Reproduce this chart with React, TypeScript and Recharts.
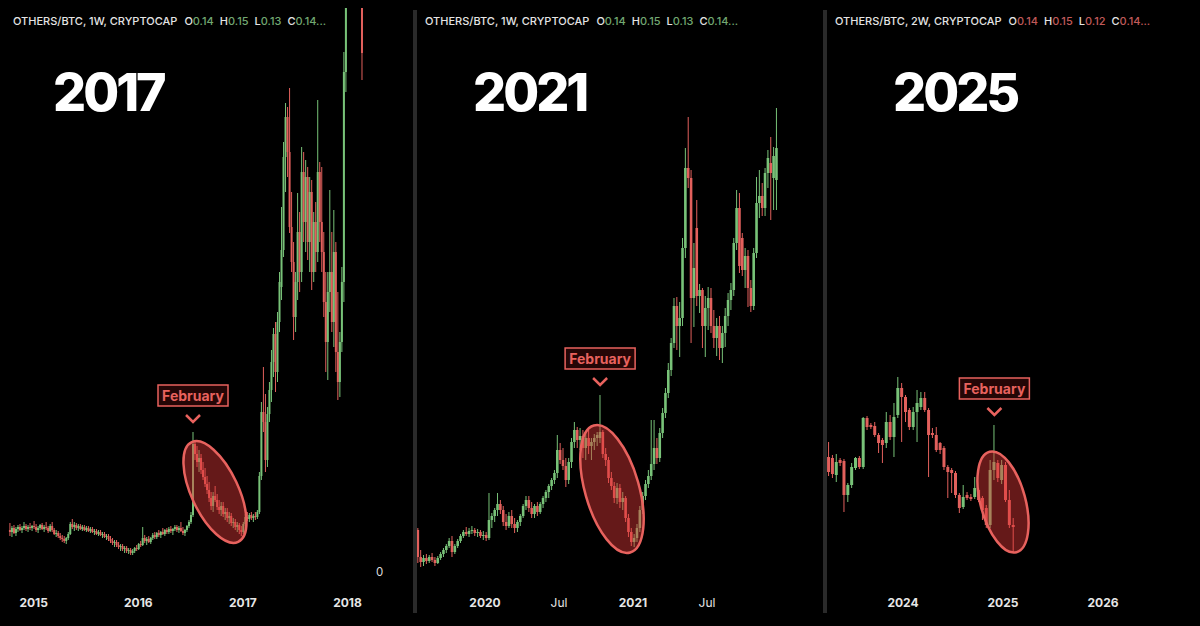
import React from 'react';
import { ComposedChart, Bar, XAxis, YAxis, ReferenceDot } from 'recharts';

const UP = '#78c278';
const DOWN = '#e2605c';
const MARK = '#e8625e';
const FONT = 'Inter, "Noto Sans", sans-serif';

// every candle is [open, high, low, close], in chart units
type Ohlc = [number, number, number, number];

// ---- 2017 cycle, weekly candles ----
const start2017 = 2014.773;
const step2017 = 1 / 52;
const candles2017: Ohlc[] = [
  [42, 49, 36, 40], [40, 46, 35, 44], [44, 47, 38, 39], [39, 45, 36, 43], [43, 47, 40, 45],
  [45, 48, 41, 42], [42, 46, 39, 44], [44, 50, 42, 46], [46, 48, 41, 43], [43, 47, 40, 45],
  [45, 49, 42, 44], [44, 47, 41, 46], [46, 51, 43, 45], [45, 48, 40, 42], [42, 46, 39, 44],
  [44, 48, 42, 47], [47, 49, 42, 43], [43, 47, 40, 45], [45, 50, 42, 44], [44, 46, 39, 41],
  [41, 48, 40, 46], [46, 50, 40, 42], [42, 44, 37, 38], [38, 42, 35, 39], [39, 41, 34, 36],
  [36, 39, 32, 34], [34, 37, 30, 33], [33, 36, 29, 31], [31, 35, 28, 34], [34, 40, 32, 38],
  [38, 50, 37, 48], [48, 53, 43, 45], [45, 50, 41, 47], [47, 49, 42, 44], [44, 48, 41, 46],
  [46, 48, 42, 43], [43, 47, 41, 45], [45, 47, 41, 42], [42, 46, 40, 44], [44, 46, 40, 41],
  [41, 45, 39, 43], [43, 45, 39, 40], [40, 43, 37, 41], [41, 43, 37, 38], [38, 42, 36, 40],
  [40, 42, 36, 37], [37, 40, 34, 38], [38, 40, 34, 35], [35, 38, 32, 36], [36, 38, 31, 33],
  [33, 36, 29, 31], [31, 34, 27, 29], [29, 32, 25, 30], [30, 32, 25, 27], [27, 30, 23, 25],
  [25, 28, 21, 26], [26, 28, 21, 23], [23, 26, 19, 24], [24, 26, 19, 21], [21, 24, 18, 22],
  [22, 24, 17, 19], [19, 23, 17, 21], [21, 25, 19, 24], [24, 27, 21, 23], [23, 29, 22, 28],
  [28, 31, 25, 27], [27, 45, 26, 34], [34, 37, 29, 31], [31, 35, 27, 33], [33, 36, 29, 30],
  [30, 35, 28, 34], [34, 39, 32, 37], [37, 40, 33, 35], [35, 40, 33, 39], [39, 42, 35, 37],
  [37, 41, 34, 40], [40, 44, 37, 38], [38, 43, 36, 42], [42, 44, 38, 40], [40, 45, 38, 43],
  [43, 46, 39, 41], [41, 44, 37, 43], [43, 47, 41, 45], [45, 47, 40, 42], [42, 46, 39, 44],
  [44, 50, 40, 41], [41, 45, 37, 39], [39, 43, 36, 42], [42, 47, 40, 46], [46, 52, 44, 50],
  [50, 60, 48, 57], [57, 140, 55, 128], [128, 132, 112, 118], [118, 126, 105, 110], [110, 122, 100, 114],
  [114, 118, 98, 102], [102, 110, 92, 95], [95, 104, 85, 88], [88, 96, 78, 82], [82, 90, 70, 74],
  [74, 80, 62, 66], [66, 80, 60, 76], [76, 86, 70, 72], [72, 78, 62, 65], [65, 72, 58, 62],
  [62, 70, 56, 66], [66, 70, 55, 58], [58, 64, 52, 60], [60, 64, 50, 54], [54, 60, 48, 56],
  [56, 59, 46, 49], [49, 54, 44, 50], [50, 53, 42, 45], [45, 50, 40, 47], [47, 49, 38, 42],
  [42, 46, 36, 40], [40, 50, 38, 48], [48, 58, 46, 55], [55, 60, 51, 53], [53, 59, 50, 57],
  [57, 60, 52, 54], [54, 58, 50, 56], [56, 60, 52, 55], [55, 62, 53, 60], [60, 100, 58, 96],
  [96, 170, 92, 160], [160, 205, 140, 150], [150, 178, 100, 112], [112, 165, 105, 158], [158, 190, 150, 182],
  [182, 222, 170, 210], [210, 244, 195, 238], [238, 250, 180, 200], [200, 260, 190, 250], [250, 300, 240, 290],
  [285, 365, 272, 322], [322, 430, 315, 415], [415, 469, 380, 455], [455, 465, 395, 420], [420, 484, 339, 345],
  [345, 380, 300, 310], [310, 330, 232, 255], [255, 300, 240, 290], [290, 379, 272, 340], [340, 360, 280, 300],
  [300, 425, 290, 400], [400, 420, 330, 350], [350, 412, 320, 395], [395, 405, 312, 330], [330, 395, 300, 380],
  [380, 392, 282, 300], [300, 360, 290, 350], [350, 370, 300, 320], [320, 472, 310, 400], [400, 410, 330, 350],
  [350, 405, 300, 320], [320, 340, 255, 270], [270, 300, 200, 230], [230, 300, 192, 280], [280, 382, 260, 300],
  [300, 340, 240, 250], [250, 362, 225, 320], [320, 330, 200, 220], [220, 280, 172, 190], [190, 240, 175, 230],
  [230, 305, 220, 290], [290, 520, 270, 500], [500, 640, 480, 620], [600, 700, 580, 680], [680, 760, 650, 720],
  [720, 800, 690, 780], [780, 820, 700, 740], [740, 790, 680, 700], [700, 760, 650, 720], [720, 740, 600, 640],
  [640, 660, 492, 519],
];
const ticks2017 = [2015, 2016, 2017, 2018];
const tickLabels2017 = ['2015', '2016', '2017', '2018'];
const yTicks2017 = [0];
const feb2017 = 91;

// ---- 2021 cycle, weekly candles ----
const start2021 = 2019.547;
const step2021 = 1 / 52;
const candles2021: Ohlc[] = [
  [58, 60, 25, 31], [31, 38, 21, 26], [26, 33, 22, 30], [30, 34, 24, 27], [27, 33, 25, 31],
  [31, 35, 26, 28], [28, 31, 22, 25], [25, 32, 24, 30], [30, 36, 28, 34], [34, 40, 31, 38],
  [38, 44, 35, 42], [42, 50, 40, 47], [47, 52, 31, 36], [36, 44, 34, 42], [42, 49, 40, 47],
  [47, 54, 45, 52], [52, 58, 50, 56], [56, 61, 52, 54], [54, 60, 51, 57], [57, 62, 54, 58],
  [58, 60, 52, 55], [55, 59, 51, 56], [56, 58, 50, 52], [52, 57, 48, 53], [53, 56, 47, 50],
  [50, 95, 48, 68], [68, 75, 60, 72], [72, 80, 66, 78], [78, 95, 72, 84], [84, 88, 74, 78],
  [78, 82, 62, 66], [66, 74, 58, 62], [62, 76, 60, 72], [72, 78, 60, 64], [64, 70, 55, 60],
  [60, 68, 56, 66], [66, 74, 62, 72], [72, 84, 70, 82], [82, 92, 78, 88], [88, 92, 76, 80],
  [80, 86, 70, 74], [74, 84, 70, 82], [82, 86, 72, 76], [76, 86, 74, 84], [84, 92, 80, 90],
  [90, 98, 86, 96], [96, 104, 90, 102], [102, 110, 98, 108], [108, 118, 104, 115], [115, 153, 110, 138],
  [138, 145, 124, 128], [128, 140, 118, 122], [122, 130, 101, 108], [108, 130, 104, 126], [126, 150, 120, 146],
  [146, 166, 140, 158], [158, 161, 140, 148], [148, 160, 138, 152], [152, 158, 130, 140], [140, 156, 128, 150],
  [150, 158, 134, 142], [142, 150, 128, 146], [146, 154, 138, 150], [150, 156, 142, 153], [150, 193, 145, 156],
  [156, 158, 130, 134], [134, 140, 122, 128], [128, 131, 105, 110], [110, 116, 98, 102], [102, 106, 85, 90],
  [90, 105, 84, 100], [100, 104, 80, 86], [86, 96, 78, 90], [90, 92, 66, 70], [70, 74, 51, 56],
  [56, 60, 42, 46], [46, 54, 41, 50], [50, 64, 46, 60], [60, 82, 56, 78], [78, 96, 74, 92],
  [92, 108, 88, 104], [104, 118, 100, 112], [112, 168, 108, 124], [124, 168, 118, 140], [140, 150, 124, 130],
  [130, 160, 126, 155], [155, 180, 150, 175], [175, 200, 170, 195], [195, 225, 190, 218], [218, 250, 212, 245],
  [245, 290, 240, 282], [282, 291, 238, 262], [262, 286, 231, 270], [270, 350, 262, 340], [340, 440, 330, 420],
  [420, 471, 400, 410], [410, 418, 245, 290], [290, 345, 261, 320], [360, 388, 282, 292], [292, 304, 275, 298],
  [298, 300, 240, 262], [262, 292, 231, 280], [280, 301, 258, 290], [290, 300, 255, 262], [262, 278, 240, 250],
  [250, 270, 232, 262], [262, 272, 228, 240], [240, 262, 225, 255], [255, 280, 241, 272], [272, 295, 262, 288],
  [288, 305, 278, 298], [298, 350, 292, 345], [345, 398, 338, 380], [380, 395, 315, 322], [350, 355, 312, 318],
  [318, 340, 300, 332], [332, 338, 281, 300], [300, 308, 276, 282], [282, 340, 278, 335], [335, 411, 330, 385],
  [385, 418, 370, 392], [392, 405, 372, 380], [380, 420, 372, 415], [415, 438, 400, 430], [425, 451, 368, 415],
  [410, 441, 378, 432], [408, 480, 378, 440],
];
const ticks2021 = [2020, 2020.5, 2021, 2021.5];
const tickLabels2021 = ['2020', 'Jul', '2021', 'Jul'];
const feb2021 = 64;

// ---- 2025 cycle, two-week candles ----
const start2025 = 2023.26;
const step2025 = 1 / 26;
const candles2025: Ohlc[] = [
  [131, 146, 112, 116], [130, 133, 110, 114], [113, 134, 106, 126], [128, 130, 122, 125], [127, 129, 76, 93],
  [93, 105, 86, 103], [103, 125, 100, 121], [120, 131, 118, 130], [130, 132, 119, 121], [121, 171, 119, 170],
  [170, 172, 158, 161], [163, 165, 159, 161], [162, 166, 151, 153], [153, 155, 135, 145], [148, 150, 125, 143],
  [145, 176, 140, 166], [166, 173, 148, 151], [151, 185, 131, 171], [173, 211, 170, 200], [200, 205, 146, 191],
  [191, 193, 166, 176], [178, 180, 158, 161], [161, 181, 158, 176], [176, 198, 146, 185], [181, 196, 178, 190],
  [190, 196, 176, 178], [178, 180, 111, 153], [155, 160, 150, 153], [153, 161, 136, 138], [145, 146, 134, 138],
  [140, 142, 118, 121], [121, 123, 90, 116], [118, 120, 95, 115], [115, 117, 90, 93], [93, 95, 75, 80],
  [81, 103, 79, 91], [93, 96, 88, 90], [91, 94, 87, 89], [91, 111, 89, 100], [98, 100, 86, 88],
  [90, 92, 68, 78], [80, 83, 60, 63], [63, 128, 60, 118], [118, 163, 108, 126], [125, 128, 106, 110],
  [108, 128, 104, 123], [123, 126, 86, 88], [88, 98, 60, 63], [63, 70, 35, 61],
];
const ticks2025 = [2024, 2025, 2026];
const tickLabels2025 = ['2024', '2025', '2026'];
const feb2025 = 43;

type Row = { t: number; o: number; h: number; l: number; c: number };

function toRows(candles: Ohlc[], start: number, step: number): Row[] {
  return candles.map(([o, h, l, c], i) => ({ t: start + i * step, o, h, l, c }));
}

const rows2017 = toRows(candles2017, start2017, step2017);
const rows2021 = toRows(candles2021, start2021, step2021);
const rows2025 = toRows(candles2025, start2025, step2025);

function candleShape(bodyW: number) {
  return (props: any) => {
    const { x, y, width, height, payload } = props;
    if (!payload || !Number.isFinite(y) || !Number.isFinite(height)) return <g />;
    const top = Math.min(y, y + height);
    const bot = Math.max(y, y + height);
    const { o, h, l, c } = payload as Row;
    const span = h - l || 1;
    const py = (v: number) => bot - ((v - l) / span) * (bot - top);
    const cx = x + width / 2;
    const color = c >= o ? UP : DOWN;
    const bTop = py(Math.max(o, c));
    const bBot = py(Math.min(o, c));
    return (
      <g>
        <line x1={cx} x2={cx} y1={top} y2={bot} stroke={color} strokeWidth={1} />
        <rect x={cx - bodyW / 2} y={bTop} width={bodyW} height={Math.max(1, bBot - bTop)} fill={color} />
      </g>
    );
  };
}

// red ring drawn round the post-February slide
function ringShape(rx: number, ry: number, angle: number) {
  return (p: any) => (
    <ellipse
      cx={p.cx}
      cy={p.cy}
      rx={rx}
      ry={ry}
      transform={`rotate(${angle} ${p.cx} ${p.cy})`}
      fill="rgba(225,55,55,0.45)"
      stroke={MARK}
      strokeWidth={2.5}
    />
  );
}

// "February" box with a chevron pointing at the candle high
function febShape(p: any) {
  const { cx, cy } = p;
  const boxBottom = cy - 26;
  return (
    <g>
      <rect x={cx - 35} y={boxBottom - 21} width={70} height={21} fill="rgba(120,20,20,0.3)" stroke={MARK} strokeWidth={1.5} />
      <text x={cx} y={boxBottom - 5.5} textAnchor="middle" fill={MARK} fontSize={14} fontWeight={700} fontFamily={FONT}>
        February
      </text>
      <polyline
        points={`${cx - 7},${cy - 17} ${cx},${cy - 10} ${cx + 7},${cy - 17}`}
        fill="none"
        stroke={MARK}
        strokeWidth={2.5}
      />
    </g>
  );
}

type PanelProps = {
  left: number;
  width: number;
  rows: Row[];
  xDomain: [number, number];
  yDomain: [number, number];
  ticks: number[];
  tickLabels: string[];
  yTicks?: number[];
  bodyW: number;
  febIndex: number;
  ring: { t: number; v: number; rx: number; ry: number; angle: number };
  top: number;
};

function Panel({ left, width, rows, xDomain, yDomain, ticks, tickLabels, yTicks, bodyW, febIndex, ring, top }: PanelProps) {
  const feb = rows[febIndex];
  return (
    <div style={{ position: 'absolute', left, top: 0 }}>
      <ComposedChart width={width} height={626} data={rows} margin={{ top, right: 0, bottom: 0, left: 0 }}>
        <XAxis
          dataKey="t"
          type="number"
          domain={xDomain}
          allowDataOverflow
          ticks={ticks}
          interval={0}
          axisLine={false}
          tickLine={false}
          tickSize={0}
          tickMargin={10}
          height={38}
          tick={(tp: any) => {
            const label = tickLabels[tp.index] ?? '';
            return (
              <text
                x={tp.x}
                y={tp.y}
                dy={9}
                textAnchor="middle"
                fill="#e6e6e6"
                fontSize={12}
                fontWeight={/^\d{4}$/.test(label) ? 700 : 400}
                fontFamily={FONT}
              >
                {label}
              </text>
            );
          }}
        />
        {yTicks ? (
          <YAxis
            orientation="right"
            width={38}
            domain={yDomain}
            allowDataOverflow
            ticks={yTicks}
            axisLine={false}
            tickLine={false}
            tickSize={0}
            tickMargin={4}
            tick={{ fill: '#dddddd', fontSize: 11.5, fontFamily: FONT }}
          />
        ) : (
          <YAxis hide domain={yDomain} allowDataOverflow />
        )}
        <Bar
          dataKey={(d: Row) => [d.l, d.h]}
          isAnimationActive={false}
          barSize={bodyW}
          shape={candleShape(bodyW)}
        />
        <ReferenceDot x={ring.t} y={ring.v} r={0} ifOverflow="visible" shape={ringShape(ring.rx, ring.ry, ring.angle)} />
        <ReferenceDot x={feb.t} y={feb.h} r={0} ifOverflow="visible" shape={febShape} />
      </ComposedChart>
    </div>
  );
}

function Header({ x, title, values, valueColor }: { x: number; title: string; values: string[]; valueColor: string }) {
  const keys = ['O', 'H', 'L', 'C'];
  return (
    <text x={x} y={25} fontSize={11} fontWeight={500} fill="#e4e4e4" fontFamily={FONT}>
      {title}
      {keys.map((k, i) => (
        <React.Fragment key={k}>
          <tspan dx={i === 0 ? 7 : 6}>{k}</tspan>
          <tspan fill={valueColor}>{values[i]}</tspan>
        </React.Fragment>
      ))}
    </text>
  );
}

export default function App() {
  return (
    <div style={{ position: 'absolute', left: 0, top: 0, width: 1200, height: 626, background: '#000', overflow: 'hidden' }}>
      <Panel
        left={0}
        width={410}
        rows={rows2017}
        xDomain={[2014.678, 2018.234]}
        yDomain={[-16, 564]}
        ticks={ticks2017}
        tickLabels={tickLabels2017}
        yTicks={yTicks2017}
        bodyW={2}
        febIndex={feb2017}
        ring={{ t: 2016.733, v: 80, rx: 23.5, ry: 55, angle: -25 }}
        top={8}
      />
      <Panel
        left={417}
        width={406}
        rows={rows2021}
        xDomain={[2019.5405, 2022.2838]}
        yDomain={[0, 588]}
        ticks={ticks2021}
        tickLabels={tickLabels2021}
        bodyW={2.6}
        febIndex={feb2021}
        ring={{ t: 2020.858, v: 99, rx: 27, ry: 66, angle: -16 }}
        top={0}
      />
      <Panel
        left={827}
        width={373}
        rows={rows2025}
        xDomain={[2023.24, 2026.97]}
        yDomain={[0, 588]}
        ticks={ticks2025}
        tickLabels={tickLabels2025}
        bodyW={3}
        febIndex={feb2025}
        ring={{ t: 2025.0, v: 86, rx: 22.5, ry: 52, angle: -15 }}
        top={0}
      />
      <svg width={1200} height={626} style={{ position: 'absolute', left: 0, top: 0, pointerEvents: 'none' }}>
        <rect x={413} y={10} width={4} height={603} fill="#2a2a2a" />
        <rect x={823} y={10} width={4} height={603} fill="#2a2a2a" />
        <Header x={13} title="OTHERS/BTC, 1W, CRYPTOCAP" values={['0.14', '0.15', '0.13', '0.14...']} valueColor="#72a872" />
        <Header x={425} title="OTHERS/BTC, 1W, CRYPTOCAP" values={['0.14', '0.15', '0.13', '0.14...']} valueColor="#72a872" />
        <Header x={835} title="OTHERS/BTC, 2W, CRYPTOCAP" values={['0.14', '0.15', '0.12', '0.14...']} valueColor="#c05a5a" />
        <text x={53} y={111} fontSize={52} fontWeight={800} letterSpacing={-3} fill="#ffffff" fontFamily={FONT}>2017</text>
        <text x={473} y={111} fontSize={52} fontWeight={800} letterSpacing={-3} fill="#ffffff" fontFamily={FONT}>2021</text>
        <text x={893} y={111} fontSize={52} fontWeight={800} letterSpacing={-3} fill="#ffffff" fontFamily={FONT}>2025</text>
      </svg>
    </div>
  );
}
